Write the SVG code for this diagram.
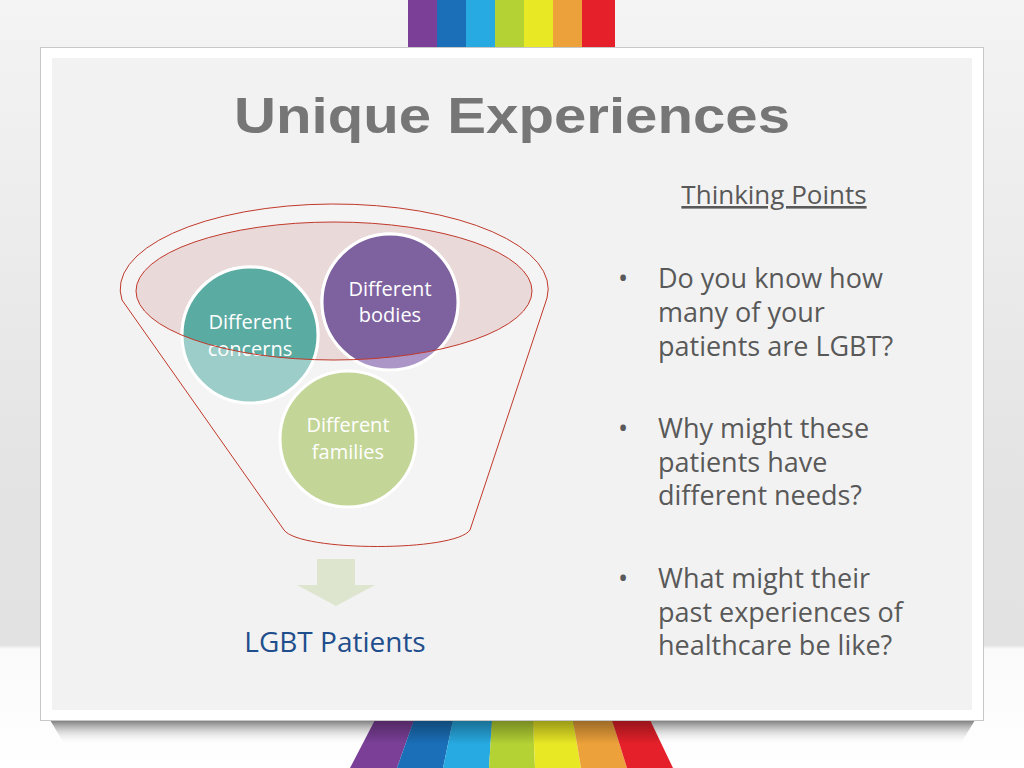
<svg xmlns="http://www.w3.org/2000/svg" width="1024" height="768" viewBox="0 0 1024 768">
<defs>
<linearGradient id="bg" x1="0" y1="0" x2="0" y2="1"><stop offset="0" stop-color="#f4f4f4"/><stop offset="0.6" stop-color="#e4e4e4"/><stop offset="0.84" stop-color="#e2e2e2"/><stop offset="0.845" stop-color="#fafafa"/><stop offset="1" stop-color="#ffffff"/></linearGradient>
<linearGradient id="sh" x1="0" y1="0" x2="0" y2="1"><stop offset="0" stop-color="#777"/><stop offset="1" stop-color="#fff" stop-opacity="0"/></linearGradient>
<linearGradient id="dk" x1="0" y1="0" x2="0" y2="1"><stop offset="0" stop-color="#000" stop-opacity="0.35"/><stop offset="0.5" stop-color="#000" stop-opacity="0"/></linearGradient>
<clipPath id="ell"><ellipse cx="334" cy="291" rx="198" ry="69"/></clipPath>
<style>
.ct{font-family:"Open Sans","Noto Sans",sans-serif;font-size:20px;fill:#fff;text-anchor:middle}
.bt{font-family:"Open Sans","Noto Sans",sans-serif;font-size:27px;fill:#595959}
</style>
</defs>
<rect width="1024" height="768" fill="url(#bg)"/>
<path d="M50,720 L975,720 L960,745 L65,745 Z" fill="url(#sh)"/>
<g>
<rect x="408" y="0" width="30" height="48" fill="#7b3f98"/><rect x="437" y="0" width="30" height="48" fill="#1a6fb8"/><rect x="466" y="0" width="30" height="48" fill="#27a9e1"/><rect x="495" y="0" width="30" height="48" fill="#b4d234"/><rect x="524" y="0" width="30" height="48" fill="#e9e825"/><rect x="553" y="0" width="30" height="48" fill="#eda13a"/><rect x="582" y="0" width="33" height="48" fill="#e5202a"/>
<path d="M375,720 L414,720 L397,768 L350,768 Z" fill="#7b3f98"/><path d="M414,720 L453,720 L443,768 L397,768 Z" fill="#1a6fb8"/><path d="M453,720 L492,720 L489,768 L443,768 Z" fill="#27a9e1"/><path d="M492,720 L533,720 L535,768 L489,768 Z" fill="#b4d234"/><path d="M533,720 L573,720 L581,768 L535,768 Z" fill="#e9e825"/><path d="M573,720 L612,720 L627,768 L581,768 Z" fill="#eda13a"/><path d="M612,720 L650,720 L673,768 L627,768 Z" fill="#e5202a"/>
<path d="M375,720 L650,720 L673,768 L350,768 Z" fill="url(#dk)"/>
</g>
<rect x="40.5" y="47.5" width="943" height="673" fill="#fff" stroke="#c8c8c8"/>
<rect x="52" y="58" width="920" height="652" fill="#f2f2f2"/>
<text x="234" y="133" font-family="'Liberation Sans',Arial,sans-serif" font-weight="bold" font-size="50" fill="#767676" textLength="556" lengthAdjust="spacingAndGlyphs">Unique Experiences</text>
<text x="774" y="204" font-family="'Open Sans','Noto Sans',sans-serif" font-size="26" fill="#595959" text-anchor="middle" text-decoration="underline">Thinking Points</text>
<g id="bullets">
<text x="618" y="288" class="bt">•</text><text x="658" y="288" class="bt">Do you know how</text><text x="658" y="322" class="bt">many of your</text><text x="658" y="356" class="bt">patients are LGBT?</text>
<text x="618" y="438" class="bt">•</text><text x="658" y="438" class="bt">Why might these</text><text x="658" y="472" class="bt">patients have</text><text x="658" y="505" class="bt">different needs?</text>
<text x="618" y="588" class="bt">•</text><text x="658" y="588" class="bt">What might their</text><text x="658" y="622" class="bt">past experiences of</text><text x="658" y="655" class="bt">healthcare be like?</text>
</g>
<g id="funnel">
<path d="M122,300 A214,85 0 1,1 547,298 L470,530 C455,552 300,552 284,530 Z" fill="#f4f4f4" stroke="#c0392b" stroke-width="1"/>
<ellipse cx="334" cy="291" rx="198" ry="69" fill="#ead9d9"/>
</g>
<g id="concerns">
<circle cx="250" cy="335" r="68" fill="#9dcdc8" stroke="#fff" stroke-width="3"/>
<circle cx="250" cy="335" r="68" fill="#5aaba2" stroke="#fff" stroke-width="3" clip-path="url(#ell)"/>
<text class="ct" x="250" y="329">Different</text><text class="ct" x="250" y="356">concerns</text>
</g>
<g id="bodies">
<circle cx="390" cy="302" r="68" fill="#ab96c7" stroke="#fff" stroke-width="3"/>
<circle cx="390" cy="302" r="68" fill="#7e62a0" stroke="#fff" stroke-width="3" clip-path="url(#ell)"/>
<text class="ct" x="390" y="296">Different</text><text class="ct" x="390" y="322">bodies</text>
</g>
<g id="families">
<circle cx="348" cy="439" r="68" fill="#c3d697" stroke="#fff" stroke-width="3"/>
<text class="ct" x="348" y="432">Different</text><text class="ct" x="348" y="459">families</text>
</g>
<ellipse cx="334" cy="291" rx="198" ry="69" fill="none" stroke="#c0392b" stroke-width="1"/>
<g id="connectors">
<path d="M317,559 L355,559 L355,585 L375,585 L336,606 L297,585 L317,585 Z" fill="#dde5cf"/>
</g>
<g id="lgbt"><text x="335" y="652" font-family="'Open Sans','Noto Sans',sans-serif" font-size="28" fill="#1f4e8c" text-anchor="middle">LGBT Patients</text></g>
</svg>
